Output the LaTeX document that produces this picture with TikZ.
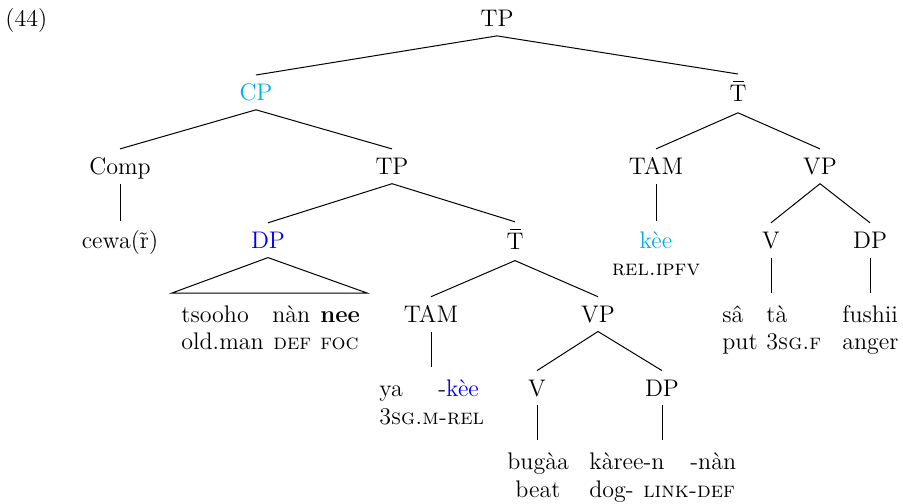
\documentclass[tikz,border=0pt]{standalone}
\usepackage{fontspec}
\definecolor{lcyan}{RGB}{0,174,239}
\definecolor{dblue}{RGB}{0,0,255}
\tikzset{
  x=0.5pt, y=-0.5pt,
  every node/.append style={font=\fontsize{12}{13.6}\selectfont},
  lab/.style={inner sep=0pt, text height=8.2pt, text depth=0pt, minimum height=17pt},
  leaf/.style={inner sep=0pt, text height=8.2pt, text depth=0pt, minimum height=19pt},
  wd/.style={inner sep=0pt, anchor=base west},
  wc/.style={inner sep=0pt, anchor=base},
  branch/.style={line width=0.5pt}
}
\newcommand{\Tbar}{\leavevmode\rlap{\hspace{1.9pt}\raisebox{9.9pt}{\rule{5.2pt}{0.45pt}}}T}
\newcommand{\gsc}[1]{{\fontsize{11}{13.6}\selectfont\textsc{#1}}}
\begin{document}
\begin{tikzpicture}
\path[use as bounding box] (0,0) rectangle (903,503);
\node[wd] (ex) at (5,26) {(44)};
% level 0
\node[lab] (tp0) at (497,18.5) {TP};
% level 1
\node[lab, text=lcyan] (cp) at (256,92.4) {CP};
\node[lab, minimum height=19pt] (tb1) at (738,93.4) {\Tbar};
% level 2
\node[lab] (comp) at (120,166.3) {Comp};
\node[lab] (tp1) at (392,166.3) {TP};
\node[lab] (tam1) at (656,166.3) {TAM};
\node[lab] (vp1) at (820,166.3) {VP};
% level 3
\node[leaf] (cewa) at (120,240.2) {cewa(\~{r})};
\node[lab, text=dblue] (dp1) at (268,240.2) {DP};
\node[lab, minimum height=19pt] (tb2) at (515,241.2) {\Tbar};
\node[leaf, text=lcyan] (kee) at (656,240.2) {kèe};
\node[wc] (relipfv) at (656,275) {\gsc{rel.ipfv}};
\node[lab] (v1) at (771,240.2) {V};
\node[lab] (dp2) at (870,240.2) {DP};
% level 4
\node[lab] (tam2) at (431,314.1) {TAM};
\node[lab] (vp2) at (598,314.1) {VP};
% level 5
\node[lab] (v2) at (537,388) {V};
\node[lab] (dp3) at (662,388) {DP};

% leaf glosses
\node[wd] (w1) at (181,322) {tsooho};
\node[wd] (w2) at (272,322) {nàn};
\node[wd] (w3) at (320,322) {\textbf{nee}};
\node[wd] (g1) at (181,349) {old.man};
\node[wd] (g2) at (273,349) {\gsc{def}};
\node[wd] (g3) at (320,349) {\gsc{foc}};

\node[wd] (w4) at (722,322) {sâ};
\node[wd] (w5) at (766,322) {tà};
\node[wd] (w6) at (842,322) {fushii};
\node[wd] (g4) at (722,349) {put};
\node[wd] (g5) at (766,349) {3\gsc{sg.f}};
\node[wd] (g6) at (842,349) {anger};

\node[wd] (w7) at (379,396) {ya};
\node[wd] (w8) at (438,396) {-\textcolor{dblue}{kèe}};
\node[wd] (g7) at (379,424) {3\gsc{sg.m-rel}};

\node[wd] (w9) at (507,469.5) {bugàa};
\node[wd] (w10) at (589,469.5) {kàree-n};
\node[wd] (w11) at (690,469.5) {-nàn};
\node[wd] (g9) at (515,497) {beat};
\node[wd] (g10) at (589,497) {dog-};
\node[wd] (g11) at (643,497) {\gsc{link-def}};

% leaf attachment points
\coordinate (tl) at (172,293);
\coordinate (tr) at (367,293);
\coordinate (v1leaf) at (771,293);
\coordinate (dp2leaf) at (870,293);
\coordinate (tam2leaf) at (431,367);
\coordinate (v2leaf) at (537,440);
\coordinate (dp3leaf) at (662,440);

% branches
\draw[branch] (tp0.south) -- (cp.north);
\draw[branch] (tp0.south) -- (tb1.north);
\draw[branch] (cp.south) -- (comp.north);
\draw[branch] (cp.south) -- (tp1.north);
\draw[branch] (tb1.south) -- (tam1.north);
\draw[branch] (tb1.south) -- (vp1.north);
\draw[branch] (comp.south) -- (cewa.north);
\draw[branch] (tp1.south) -- (dp1.north);
\draw[branch] (tp1.south) -- (tb2.north);
\draw[branch] (tam1.south) -- (kee.north);
\draw[branch] (vp1.south) -- (v1.north);
\draw[branch] (vp1.south) -- (dp2.north);
\draw[branch] (dp1.south) -- (tl) -- (tr) -- cycle;
\draw[branch] (v1.south) -- (v1leaf);
\draw[branch] (dp2.south) -- (dp2leaf);
\draw[branch] (tb2.south) -- (tam2.north);
\draw[branch] (tb2.south) -- (vp2.north);
\draw[branch] (tam2.south) -- (tam2leaf);
\draw[branch] (vp2.south) -- (v2.north);
\draw[branch] (vp2.south) -- (dp3.north);
\draw[branch] (v2.south) -- (v2leaf);
\draw[branch] (dp3.south) -- (dp3leaf);
\end{tikzpicture}
\end{document}
